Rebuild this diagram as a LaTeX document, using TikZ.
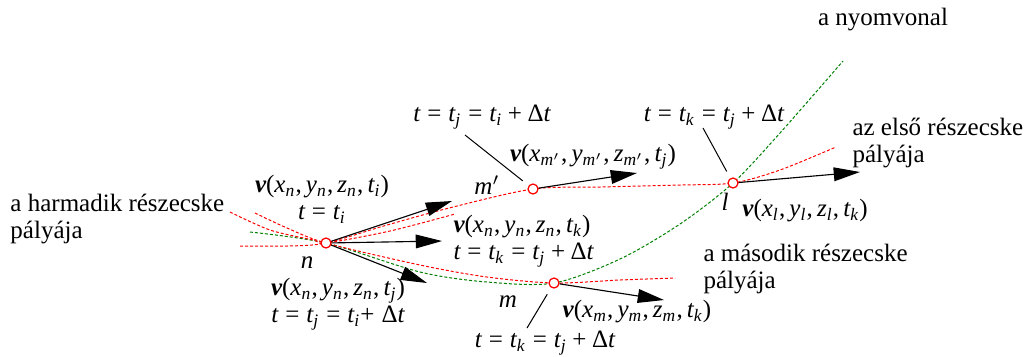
\documentclass[tikz,border=0pt]{standalone}
\usepackage{amsmath}
\usepackage[no-math]{fontspec}
\setmainfont{Liberation Serif}
\newfontfamily\mathSerif[NFSSFamily=libser]{Liberation Serif}
\DeclareSymbolFont{letters}{TU}{libser}{m}{it}
\SetSymbolFont{letters}{bold}{TU}{libser}{b}{it}
\DeclareSymbolFont{operators}{TU}{libser}{m}{n}
\SetSymbolFont{operators}{bold}{TU}{libser}{b}{n}
\DeclareMathSymbol{,}{\mathpunct}{operators}{`,}
\Umathchardef\Delta="0 \symoperators "0394
\usetikzlibrary{arrows.meta}

\begin{document}
\begin{tikzpicture}[x=0.4pt,y=-0.4pt,
    font=\rmfamily\fontsize{10pt}{10.8pt}\selectfont,
    pathRed/.style={red, dash pattern=on 1.2pt off 0.8pt, line width=0.4pt},
    trace/.style={green!50!black, dash pattern=on 1.2pt off 0.8pt, line width=0.4pt},
    vec/.style={line width=0.45pt, -{Triangle[length=10.5pt,width=5.5pt]}},
    leader/.style={line width=0.4pt, shorten >=3pt},
    pt/.style={circle, draw=red, fill=white, line width=0.5pt, minimum size=4pt, inner sep=0pt},
    lbl/.style={inner sep=0pt, align=center}]
  \useasboundingbox (0,0) rectangle (1024,356);
  \coordinate (pn) at (326,243);
  \coordinate (pmp) at (533,189);
  \coordinate (pl) at (733,183);
  \coordinate (pm) at (554,283);
  \draw[trace] plot[smooth] coordinates {(250,232) (pn) (420,272) (487,282) (pm) (620,259) (680,224) (pl) (780,133) (843,61)};
  \draw[pathRed] plot[smooth] coordinates {(240,246) (287,246) (pn) (387,225) (453,207) (pmp) (600,187) (680,185) (pl) (780,170) (836,147)};
  \draw[pathRed] plot[smooth] coordinates {(255,213) (287,228) (pn) (420,265) (487,277) (pm) (620,280) (675,278)};
  \draw[pathRed] plot[smooth] coordinates {(230,212) (270,230) (313,240) (pn) (390,231) (455,214)};
  \node[pt] (n) at (pn) {};
  \node[pt] (mp) at (pmp) {};
  \node[pt] (l) at (pl) {};
  \node[pt] (m) at (pm) {};
  \coordinate (tipI) at (452,201);
  \coordinate (tipK) at (442,241);
  \coordinate (tipJ) at (427,283);
  \coordinate (tipMp) at (637,173);
  \coordinate (tipL) at (860,172);
  \coordinate (tipM) at (664,300);
  \draw[vec] (n) -- (tipI);
  \draw[vec] (n) -- (tipK);
  \draw[vec] (n) -- (tipJ);
  \draw[vec] (mp) -- (tipMp);
  \draw[vec] (l) -- (tipL);
  \draw[vec] (m) -- (tipM);
  \coordinate (ldMp) at (465,135);
  \coordinate (ldL) at (703,128);
  \coordinate (ldM) at (527,328);
  \draw[leader] (ldMp) -- (mp);
  \draw[leader] (ldL) -- (l);
  \draw[leader] (ldM) -- (m);
  \node[lbl] (nyom) at (883,20) {a nyomvonal};
  \node[lbl, anchor=west, align=left] (elso) at (852,143) {az első részecske\\pályája};
  \node[lbl, anchor=west, align=left] (harmadik) at (10,219) {a harmadik részecske\\pályája};
  \node[lbl, anchor=west, align=left] (masodik) at (703,269) {a második részecske\\pályája};
  \node[lbl] (labN) at (307,263) {$n$};
  \node[lbl] (labMp) at (487,185) {$m'$};
  \node[lbl] (labL) at (725,202) {$l$};
  \node[lbl] (labM) at (508,302) {$m$};
  \node[lbl] (vnI) at (322,199) {$\boldsymbol{v}(x_n, y_n, z_n, t_i)$\\$t = t_i$};
  \node[lbl] (vnJ) at (338,304) {$\boldsymbol{v}(x_n, y_n, z_n, t_j)$\\$t = t_j = t_i{+}\;\Delta t$};
  \node[lbl, anchor=west, align=left] (vnK) at (453,241) {$\boldsymbol{v}(x_n, y_n, z_n, t_k)$\\$t = t_k = t_j + \Delta t$};
  \node[lbl] (tMp) at (482,117) {$t = t_j = t_i + \Delta t$};
  \node[lbl] (vMp) at (593,157) {$\boldsymbol{v}(x_{m'}, y_{m'}, z_{m'}, t_j)$};
  \node[lbl] (tL) at (714,117) {$t = t_k = t_j + \Delta t$};
  \node[lbl] (vL) at (805,211) {$\boldsymbol{v}(x_l, y_l, z_l, t_k)$};
  \node[lbl] (vM) at (637,312) {$\boldsymbol{v}(x_m, y_m, z_m, t_k)$};
  \node[lbl] (tM) at (545,343) {$t = t_k = t_j + \Delta t$};
\end{tikzpicture}
\end{document}
